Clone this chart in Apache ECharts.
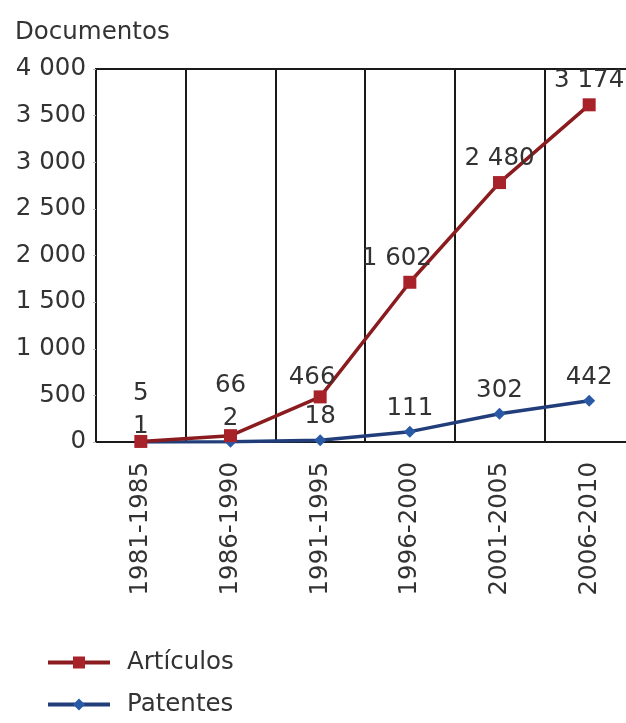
<!DOCTYPE html>
<html>
<head>
<meta charset="utf-8">
<script src="https://cdn.jsdelivr.net/npm/echarts@6/dist/echarts.min.js"></script>
<style>
html,body{margin:0;padding:0;background:#fff;}
#c{width:626px;height:723px;}
</style>
</head>
<body>
<div id="c"></div>
<script>
const categories = ['1981-1985','1986-1990','1991-1995','1996-2000','2001-2005','2006-2010'];
const articulos = [5, 66, 466, 1602, 2480, 3174];
const patentes = [1, 2, 18, 111, 302, 442];
const yTicks = [0, 500, 1000, 1500, 2000, 2500, 3000, 3500, 4000];

// label nudges (styling only), keyed by category index
const artLabelShift = {0: [0, -24], 1: [0, -26], 2: [-8, 5], 3: [-13, 0]};
const patLabelShift = {0: [0, 8]};

const FONT = 'DejaVu Sans';
const FS = 24.5;
const fmt = v => String(v).replace(/\B(?=(\d{3})+(?!\d))/g, ' ');

function buildData(values, shifts) {
  return values.map((v, i) => shifts[i] ? {value: v, label: {offset: shifts[i]}} : v);
}

const chart = echarts.init(document.getElementById('c'));
chart.setOption({
  animation: false,
  backgroundColor: '#fff',
  textStyle: {fontFamily: FONT},
  title: {
    text: 'Documentos', left: 10, top: 15,
    textStyle: {fontFamily: FONT, fontSize: FS, fontWeight: 'normal', color: '#333'}
  },
  legend: {
    orient: 'vertical', left: 46, top: 650, height: 73, padding: 0,
    data: ['Artículos', 'Patentes'],
    itemWidth: 62, itemHeight: 15, itemGap: 17,
    lineStyle: {width: 4},
    textStyle: {fontFamily: FONT, fontSize: FS, color: '#333', padding: [0, 0, 0, 12]}
  },
  grid: {
    left: 96, top: 69, width: 538, height: 373,
    show: true, borderColor: '#1a1a1a', borderWidth: 2,
    containLabel: false, outerBoundsMode: 'none'
  },
  xAxis: {
    type: 'category', data: categories, boundaryGap: true,
    axisLine: {show: true, lineStyle: {color: '#1a1a1a', width: 2}},
    axisTick: {show: false},
    splitLine: {show: true, interval: 0, lineStyle: {color: '#1a1a1a', width: 2}},
    axisLabel: {rotate: 90, interval: 0, margin: 20, fontFamily: FONT, fontSize: FS, color: '#333'}
  },
  yAxis: {
    type: 'value', min: yTicks[0], max: yTicks[yTicks.length - 1], interval: yTicks[1] - yTicks[0],
    axisLine: {show: true, lineStyle: {color: '#1a1a1a', width: 2}},
    axisTick: {show: true, length: 3, lineStyle: {color: '#bbb'}},
    splitLine: {show: false},
    axisLabel: {margin: 10, fontFamily: FONT, fontSize: FS, color: '#333', formatter: v => fmt(v)}
  },
  series: [
    {
      name: 'Patentes', type: 'line', stack: 'total',
      data: buildData(patentes, patLabelShift),
      symbol: 'diamond', symbolSize: 12,
      itemStyle: {color: '#2a5aa6'},
      lineStyle: {color: '#213e7a', width: 3.5},
      label: {show: true, position: 'top', distance: 5, fontFamily: FONT, fontSize: FS, color: '#333',
              formatter: p => fmt(p.value)},
      z: 3
    },
    {
      name: 'Artículos', type: 'line', stack: 'total',
      data: buildData(articulos, artLabelShift),
      symbol: 'rect', symbolSize: 13,
      itemStyle: {color: '#a8222a'},
      lineStyle: {color: '#8a1c20', width: 3.5},
      label: {show: true, position: 'top', distance: 5, fontFamily: FONT, fontSize: FS, color: '#333',
              formatter: p => fmt(p.value)},
      z: 4
    }
  ]
});
</script>
</body>
</html>
